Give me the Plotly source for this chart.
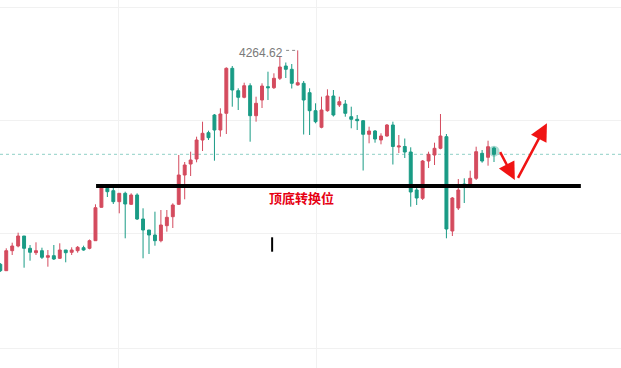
import plotly.graph_objects as go

# ---- candle data (index-based bars) ----
opens = [4050.7, 4044.3, 4064.3, 4069.0, 4079.0, 4066.7, 4062.3, 4064.3, 4057.7, 4059.3,
         4056.7, 4065.0, 4062.7, 4064.3, 4067.3, 4066.7, 4074.3, 4107.7, 4126.7, 4124.3,
         4113.3, 4121.7, 4110.7, 4120.0, 4096.0, 4085.0, 4080.0, 4074.3, 4089.3, 4098.3,
         4110.7, 4140.0, 4151.0, 4156.0, 4175.0, 4182.3, 4200.0, 4185.0, 4201.7, 4246.7,
         4224.3, 4217.7, 4229.3, 4199.3, 4215.0, 4228.3, 4227.3, 4236.7, 4249.0, 4245.7,
         4230.0, 4231.7, 4222.3, 4204.3, 4187.7, 4204.3, 4219.0, 4210.0, 4211.0, 4198.3,
         4195.7, 4194.3, 4180.7, 4184.0, 4175.0, 4179.0, 4190.0, 4168.0, 4168.5, 4163.0,
         4125.0, 4116.7, 4154.0, 4160.0, 4166.7, 4178.3, 4084.0, 4107.0, 4131.0, 4130.0,
         4136.7, 4161.7, 4157.7, 4167.0]
highs = [4052.0, 4066.7, 4072.3, 4082.3, 4079.0, 4070.0, 4072.7, 4067.3, 4065.0, 4070.0,
         4071.7, 4065.0, 4067.7, 4069.0, 4069.3, 4075.5, 4110.7, 4131.0, 4130.0, 4127.0,
         4121.7, 4123.3, 4121.7, 4121.7, 4106.7, 4085.0, 4103.3, 4105.0, 4105.0, 4111.7,
         4160.0, 4153.0, 4163.3, 4178.3, 4193.3, 4184.3, 4201.0, 4206.7, 4247.7, 4249.0,
         4226.7, 4232.3, 4231.7, 4218.3, 4231.7, 4243.3, 4241.7, 4258.0, 4252.5, 4251.0,
         4264.62, 4234.0, 4226.7, 4211.7, 4218.3, 4225.7, 4225.0, 4218.3, 4215.0, 4208.3,
         4200.0, 4195.0, 4188.3, 4185.0, 4181.7, 4191.0, 4193.3, 4180.0, 4176.5, 4167.7,
         4129.0, 4155.0, 4163.3, 4172.3, 4201.0, 4181.0, 4118.0, 4136.0, 4136.7, 4144.3,
         4168.3, 4165.0, 4174.3, 4168.3]
lows = [4043.0, 4044.0, 4060.0, 4067.7, 4047.3, 4054.3, 4060.0, 4056.0, 4048.3, 4055.0,
        4056.0, 4052.7, 4060.0, 4062.3, 4064.3, 4065.7, 4074.0, 4107.3, 4118.0, 4111.0,
        4101.7, 4076.7, 4110.0, 4095.0, 4056.7, 4061.0, 4069.3, 4072.7, 4083.3, 4087.0,
        4110.0, 4115.7, 4139.0, 4152.7, 4164.0, 4175.0, 4154.3, 4178.3, 4181.0, 4208.3,
        4205.0, 4216.7, 4173.3, 4193.3, 4207.0, 4215.0, 4226.0, 4235.0, 4237.0, 4226.5,
        4229.5, 4180.5, 4180.0, 4191.7, 4186.7, 4203.3, 4198.5, 4208.0, 4198.3, 4186.7,
        4185.0, 4144.5, 4171.7, 4172.3, 4170.7, 4178.3, 4150.5, 4162.0, 4157.0, 4108.3,
        4110.0, 4115.0, 4147.0, 4150.0, 4165.7, 4076.7, 4079.0, 4105.0, 4112.0, 4129.0,
        4135.0, 4152.3, 4149.3, 4153.0]
closes = [4044.3, 4064.3, 4069.0, 4079.0, 4066.7, 4062.7, 4064.3, 4057.7, 4059.3, 4056.0,
          4065.0, 4062.3, 4065.0, 4067.7, 4065.0, 4074.3, 4107.3, 4129.0, 4123.3, 4113.3,
          4121.7, 4111.0, 4120.0, 4096.0, 4085.0, 4080.0, 4074.3, 4090.0, 4097.7, 4110.0,
          4140.0, 4150.0, 4155.0, 4175.0, 4181.7, 4177.3, 4185.0, 4201.0, 4246.7, 4225.0,
          4217.7, 4229.3, 4199.3, 4211.7, 4229.0, 4227.3, 4236.7, 4248.0, 4245.7, 4231.7,
          4232.3, 4215.0, 4204.3, 4193.3, 4205.0, 4219.0, 4200.0, 4213.3, 4201.7, 4195.7,
          4194.3, 4180.7, 4184.0, 4176.0, 4179.0, 4190.0, 4168.5, 4169.0, 4163.0, 4123.0,
          4117.0, 4154.0, 4160.7, 4166.7, 4179.0, 4086.0, 4117.0, 4125.0, 4128.0, 4136.7,
          4163.3, 4154.0, 4168.3, 4160.7]
bars = list(range(len(opens)))

# ---- annotation values ----
high_label = "4264.62"
high_value = 4264.62
high_bar = 50
last_price = closes[-1]
level_price = 4129.0           # 顶底转换位
level_start, level_end = 16.1, 97.6
level_text = "顶底转换位"
cursor_bar, cursor_top, cursor_bottom = 45.7, 4077.7, 4063.3
arrow_down = (83.9, 4164.3, 86.5, 4135.0)   # tail x, tail y, head x, head y
arrow_up = (86.9, 4135.7, 91.9, 4191.7)
grid_y = [4308.0, 4195.0, 4081.5, 3967.0]
grid_x = [19.8, 53.1]

UP = "#d44b5e"
DOWN = "#199b85"

fig = go.Figure()
fig.add_trace(go.Candlestick(
    x=bars, open=opens, high=highs, low=lows, close=closes,
    increasing=dict(line=dict(color=UP, width=1), fillcolor=UP),
    decreasing=dict(line=dict(color=DOWN, width=1), fillcolor=DOWN),
    whiskerwidth=0, showlegend=False, hoverinfo="skip"))

# glow on last bar
fig.add_trace(go.Scatter(x=[bars[-1]], y=[(opens[-1] + closes[-1]) / 2], mode="markers",
                         marker=dict(size=11, color="rgba(25,155,133,0.35)"),
                         showlegend=False, hoverinfo="skip"))

# last price dotted line
fig.add_shape(type="line", xref="paper", x0=0, x1=1, yref="y", y0=last_price, y1=last_price,
              line=dict(color="#8fd0c6", width=1, dash="dot"), layer="below")

# support / resistance flip line
fig.add_shape(type="line", xref="x", yref="y", x0=level_start, x1=level_end,
              y0=level_price, y1=level_price, line=dict(color="#000000", width=4))

# cursor mark
fig.add_shape(type="line", xref="x", yref="y", x0=cursor_bar, x1=cursor_bar,
              y0=cursor_bottom, y1=cursor_top, line=dict(color="#000000", width=2))

# dotted leader to high
fig.add_shape(type="line", xref="x", yref="y", x0=high_bar - 1.95, x1=high_bar - 0.3,
              y0=high_value, y1=high_value, line=dict(color="#888888", width=1, dash="dot"))

fig.add_annotation(x=high_bar - 2.1, y=high_value - 3, xref="x", yref="y", text=high_label,
                   showarrow=False, xanchor="right", yanchor="middle",
                   font=dict(family="Liberation Sans, Arial", size=12, color="#7a7a7a"))

fig.add_annotation(x=50.6, y=level_price - 11.5, xref="x", yref="y", text="<b>" + level_text + "</b>",
                   showarrow=False, xanchor="center", yanchor="middle",
                   font=dict(family="Noto Sans CJK SC", size=13, color="#e60012"))

for tx, ty, hx, hy in (arrow_down, arrow_up):
    fig.add_annotation(x=hx, y=hy, ax=tx, ay=ty, xref="x", yref="y", axref="x", ayref="y",
                       text="", showarrow=True, arrowhead=2, arrowsize=1.4, arrowwidth=2.5,
                       arrowcolor="#f01414", standoff=0, startstandoff=0)

fig.update_layout(
    width=621, height=368, margin=dict(l=0, r=0, t=0, b=0),
    paper_bgcolor="#ffffff", plot_bgcolor="#ffffff",
    xaxis=dict(range=[-0.05, 104.35], rangeslider=dict(visible=False), showticklabels=False,
               tickmode="array", tickvals=grid_x, showgrid=True, gridcolor="#f1f1f1",
               zeroline=False, showline=False, ticks=""),
    yaxis=dict(range=[3947, 4315], showticklabels=False, tickmode="array", tickvals=grid_y,
               showgrid=True, gridcolor="#f1f1f1", zeroline=False, showline=False, ticks=""),
    hovermode=False,
)

fig.write_html("out.html", config={"displayModeBar": False},
               post_script="document.body.style.margin='0';document.body.style.overflow='hidden';")
